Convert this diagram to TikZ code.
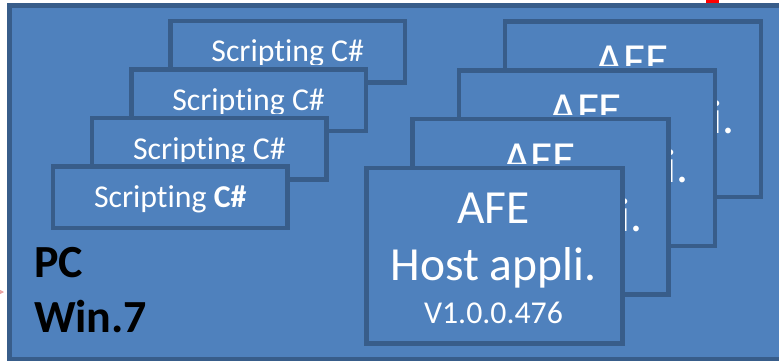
\documentclass[tikz,border=0pt]{standalone}
\usepackage{fontspec}
\setmainfont{Carlito}[Ligatures=NoCommon]
\usetikzlibrary{calc,arrows.meta}

\definecolor{boxfill}{HTML}{4F81BD}
\definecolor{boxline}{HTML}{385D8A}
\definecolor{linkpink}{HTML}{E8A3A3}

% L-shaped clip: the area of a card minus the card stacked in front of it
% (#1,#2) top-left of the card, (#3,#4) bottom-right, #5 right edge and #6 top edge of the front card
\newcommand\stackclip[6]{\clip (#1,#2) -- (#3,#2) -- (#3,#4) -- (#5,#4) -- (#5,#6-5) -- (#1,#6-5) -- cycle;}

\tikzset{
  panel/.style={draw=boxline, fill=boxfill, line width=4.5pt, rectangle, inner sep=0pt, outer sep=0pt, anchor=north west},
  scriptbox/.style={panel, minimum width=234.5pt, minimum height=61.5pt},
  hostbox/.style={panel, minimum width=256pt, minimum height=175.5pt},
  cardtext/.style={text=white, inner sep=0pt, outer sep=0pt, anchor=base},
  smalltext/.style={cardtext, font=\fontsize{31.8}{36}\selectfont},
  bigtext/.style={cardtext, font=\fontsize{47.5}{52}\selectfont},
  ostext/.style={text=black, inner sep=0pt, outer sep=0pt, anchor=base west, font=\bfseries\fontsize{46}{52}\selectfont},
}

\begin{document}
\begin{tikzpicture}[x=1pt,y=-1pt]
\useasboundingbox (0,0) rectangle (779,361);

% red marker peeking above the frame
\fill[red] (706,-5) rectangle (719,8);

% incoming link from the left
\coordinate (linktail) at (-20,292);

% the PC frame
\node[panel, line width=5pt, minimum width=800pt, minimum height=353pt] (pc) at (9.5,6) {};
\draw[linkpink, line width=0.6pt, -{Stealth[length=5pt,width=5pt]}] (linktail) -- ([xshift=-5.5pt]pc.west |- linktail);

\node[ostext] (pcname) at (34,277) {PC};
\node[ostext] (pcos) at (34,332) {Win.7};

% ---- stack of scripting cards (back to front) ----
\node[scriptbox] (s1) at (170.5,21) {};
\begin{scope}
  \stackclip{150}{10}{420}{90}{365.83}{69.5}
  \node[smalltext] (s1t) at ($(s1.north)+(0,41)$) {Scripting C\#};
\end{scope}

\node[scriptbox] (s2) at (131.33,69.5) {};
\begin{scope}
  \stackclip{110}{60}{380}{140}{326.67}{118}
  \node[smalltext] (s2t) at ($(s2.north)+(0,41)$) {Scripting C\#};
\end{scope}

\node[scriptbox] (s3) at (92.17,118) {};
\begin{scope}
  \stackclip{70}{108}{340}{190}{287.5}{166.5}
  \node[smalltext] (s3t) at ($(s3.north)+(0,41)$) {Scripting C\#};
\end{scope}

\node[scriptbox] (s4) at (53,166.5) {};
\node[smalltext] (s4t) at ($(s4.north)+(0,41)$) {Scripting \textbf{C\#}};

% ---- stack of host application cards (back to front) ----
\node[hostbox] (a1) at (505,21.5) {};
\begin{scope}
  \stackclip{490}{10}{775}{210}{714.83}{70.33}
  \node[bigtext] (a1t) at ($(a1.north)+(-1,55.3)$) {AFE};
  \node[bigtext] (a1h) at ($(a1.north)+(-1,112)$) {Host appli.};
  \node[smalltext] (a1v) at ($(a1.north)+(-1,155.3)$) {V1.0.0.476};
\end{scope}

\node[hostbox] (a2) at (458.83,70.33) {};
\begin{scope}
  \stackclip{445}{60}{730}{260}{668.67}{119.17}
  \node[bigtext] (a2t) at ($(a2.north)+(-1,55.3)$) {AFE};
  \node[bigtext] (a2h) at ($(a2.north)+(-1,112)$) {Host appli.};
  \node[smalltext] (a2v) at ($(a2.north)+(-1,155.3)$) {V1.0.0.476};
\end{scope}

\node[hostbox] (a3) at (412.67,119.17) {};
\begin{scope}
  \stackclip{400}{108}{685}{310}{622.5}{168}
  \node[bigtext] (a3t) at ($(a3.north)+(-1,55.3)$) {AFE};
  \node[bigtext] (a3h) at ($(a3.north)+(-1,112)$) {Host appli.};
  \node[smalltext] (a3v) at ($(a3.north)+(-1,155.3)$) {V1.0.0.476};
\end{scope}

\node[hostbox] (a4) at (366.5,168) {};
\node[bigtext] (a4t) at ($(a4.north)+(-1,55.3)$) {AFE};
\node[bigtext] (a4h) at ($(a4.north)+(-1,112)$) {Host appli.};
\node[smalltext] (a4v) at ($(a4.north)+(-1,155.3)$) {V1.0.0.476};
\end{tikzpicture}
\end{document}
